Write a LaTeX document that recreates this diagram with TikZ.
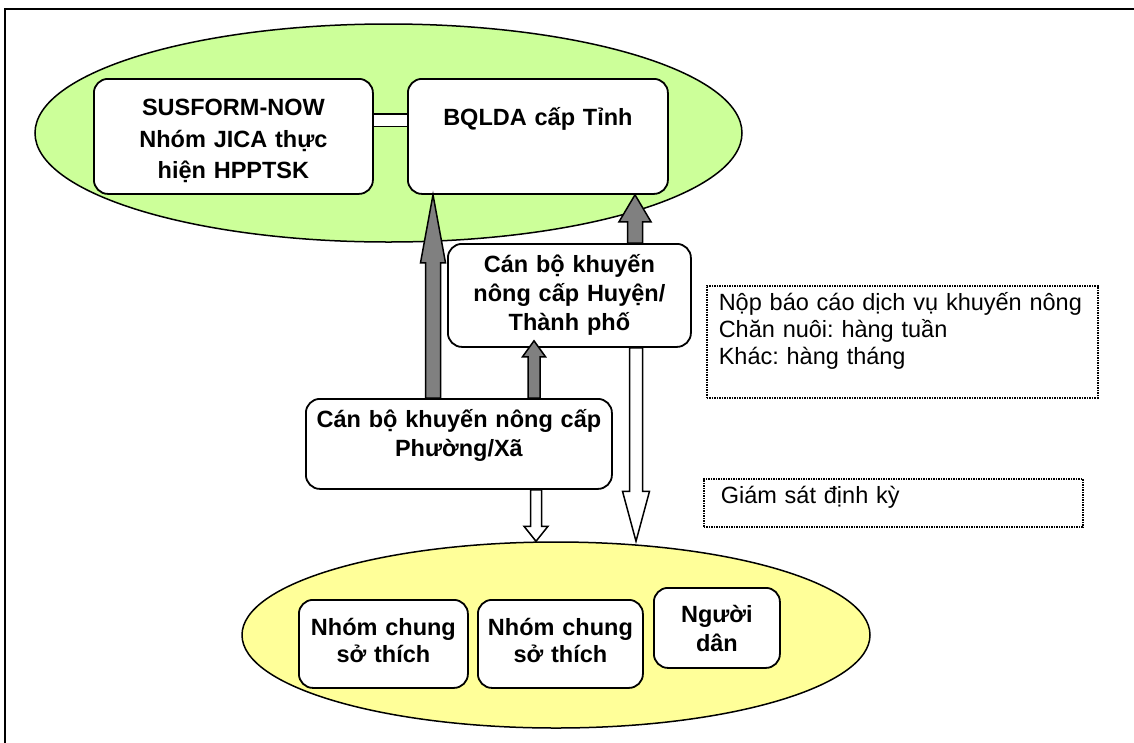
\documentclass[tikz,border=0pt]{standalone}
\usepackage{fontspec}
\setmainfont{Liberation Sans}
\usetikzlibrary{shapes.geometric,calc}

\definecolor{provgreen}{HTML}{CCFF99}
\definecolor{commyellow}{HTML}{FFFF99}
\definecolor{arrowgray}{HTML}{808080}

\tikzset{
	groupshape/.style={draw, ellipse, line width=1.5pt, inner sep=0pt},
	box/.style={draw, fill=white, line width=1.8pt, rounded corners=14pt, anchor=north west,
		inner sep=0pt, align=center, font=\bfseries\fontsize{23.5}{29}\selectfont},
	note/.style={draw, densely dotted, line width=1.5pt, anchor=north west, inner sep=0pt,
		align=left, font=\fontsize{23.5}{27}\selectfont},
	uparrow/.style={draw, fill=arrowgray, line width=1.5pt},
	downarrow/.style={draw, fill=white, line width=1.5pt},
}

% style, tail, tip, half shaft, half head, head length
\newcommand{\blockarrow}[6]{%
	\path [#1] let \p1=(#2), \p2=(#3), \n1={sign(\y2-\y1)}, \n2={\y2-\n1*#6} in
		({\x1-#4pt},\y1) -- ({\x1-#4pt},\n2) -- ({\x1-#5pt},\n2) --
		(\x1,\y2) --
		({\x1+#5pt},\n2) -- ({\x1+#4pt},\n2) -- ({\x1+#4pt},\y1) -- cycle;}

\frenchspacing

\begin{document}
\begin{tikzpicture}[x=1pt, y=-1pt]

\path [use as bounding box] (0,0) rectangle (1134,742);
\clip (0,0) rectangle (1134,742);

% FRAME
\draw [line width=1.5pt] (5,9) rectangle (1160,770);

% GROUPS
\node [groupshape, fill=provgreen, minimum width=707pt, minimum height=218pt] (prov) at (388.5,133) {};
\node [groupshape, fill=commyellow, minimum width=628pt, minimum height=186pt] (comm) at (556,635) {};

% BOXES
\node [box, text width=279pt, text height=37pt, text depth=78pt,
	font=\bfseries\fontsize{23.5}{31.5}\selectfont] (sus) at (93,78) {SUSFORM-NOW\\Nhóm JICA thực\\hiện HPPTSK};
\node [box, text width=260pt, text height=47pt, text depth=68pt] (bqlda) at (407,78) {BQLDA cấp Tỉnh};
\node [box, text width=243pt, text height=29pt, text depth=74pt] (huyen) at (447,243) {Cán bộ khuyến\\nông cấp Huyện/\\Thành phố};
\node [box, text width=306pt, text height=29pt, text depth=61pt] (phuong) at (305,398) {Cán bộ khuyến nông cấp\\Phường/Xã};
\node [box, text width=169pt, text height=36pt, text depth=52pt,
	font=\bfseries\fontsize{23.5}{27}\selectfont] (nhom1) at (298,599) {Nhóm chung\\sở thích};
\node [box, text width=165pt, text height=36pt, text depth=52pt,
	font=\bfseries\fontsize{23.5}{27}\selectfont] (nhom2) at (477,599) {Nhóm chung\\sở thích};
\node [box, text width=126pt, text height=35pt, text depth=45pt] (nguoi) at (653,587) {Người\\dân};

% LINK
\coordinate (bar) at (0,120);
\draw [line width=1.5pt, double=white, double distance=11pt] (sus.east |- bar) -- (bqlda.west |- bar);

% ARROWS
\coordinate (a1) at (433,0);
\coordinate (a2) at (635,0);
\coordinate (a3) at (534,0);
\coordinate (a4) at (536,0);
\coordinate (a5) at (636,0);
\blockarrow{uparrow}{phuong.north -| a1}{bqlda.south -| a1}{7.5}{12.5}{68}
\blockarrow{uparrow}{huyen.north -| a2}{bqlda.south -| a2}{7.5}{16}{27}
\blockarrow{uparrow}{phuong.north -| a3}{$(huyen.south -| a3)+(0,-7)$}{6}{11.5}{16}
\blockarrow{downarrow}{phuong.south -| a4}{comm.north -| a4}{5.5}{12}{15}
\blockarrow{downarrow}{huyen.south -| a5}{comm.north -| a5}{6.5}{13.5}{50}

% NOTES
\node [note, text width=391pt, text height=25pt, text depth=87pt] (report) at (706,285)
	{\hspace*{12pt}Nộp báo cáo dịch vụ khuyến nông\\\hspace*{12pt}Chăn nuôi: hàng tuần\\\hspace*{12pt}Khác: hàng tháng};
\node [note, text width=379pt, text height=25pt, text depth=23pt] (monitor) at (703,478)
	{\hspace*{17pt}Giám sát định kỳ};

\end{tikzpicture}
\end{document}
